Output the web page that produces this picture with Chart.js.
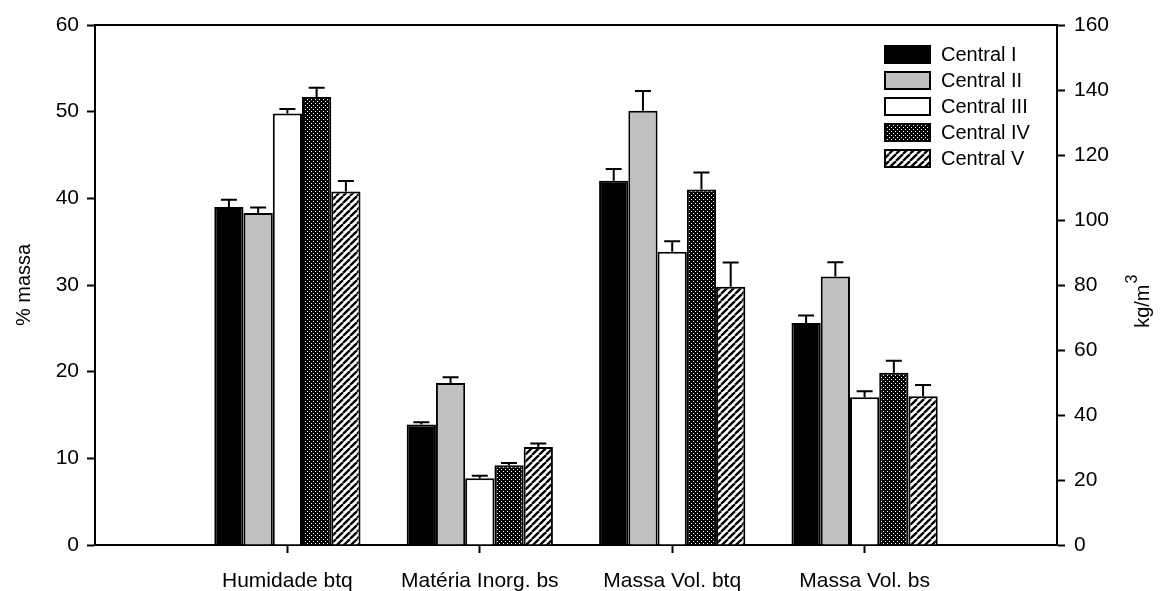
<!DOCTYPE html>
<html>
<head>
<meta charset="utf-8">
<script src="https://cdn.jsdelivr.net/npm/chart.js@4.4.1/dist/chart.umd.min.js"></script>
<style>
  html, body { margin: 0; padding: 0; background: #ffffff; }
  #wrap { width: 1168px; height: 591px; position: relative; }
</style>
</head>
<body>
<div id="wrap"><canvas id="c" width="1168" height="591"></canvas></div>
<script>
// ---- data ----
const categories = ['Humidade btq', 'Matéria Inorg. bs', 'Massa Vol. btq', 'Massa Vol. bs'];
const categoryAxis = ['left', 'left', 'right', 'right']; // left = % massa, right = kg/m3
const seriesNames = ['Central I', 'Central II', 'Central III', 'Central IV', 'Central V'];

const centralI   = [39.0, 13.9, 112.1, 68.3];
const centralII  = [38.3, 18.7, 133.6, 82.6];
const centralIII = [49.8,  7.7,  90.2, 45.5];
const centralIV  = [51.7,  9.2, 109.4, 53.0];
const centralV   = [40.8, 11.3,  79.5, 45.8];

const errI   = [0.85, 0.25, 3.6, 2.3];
const errII  = [0.65, 0.65, 6.1, 4.4];
const errIII = [0.5,  0.3,  3.3, 1.8];
const errIV  = [1.05, 0.25, 5.2, 3.7];
const errV   = [1.2,  0.4,  7.4, 3.4];

const leftTicks  = [0, 10, 20, 30, 40, 50, 60];
const rightTicks = [0, 20, 40, 60, 80, 100, 120, 140, 160];

const seriesValues = [centralI, centralII, centralIII, centralIV, centralV];
const seriesErrors = [errI, errII, errIII, errIV, errV];

// ---- patterns ----
function dotPattern() {
  const c = document.createElement('canvas');
  c.width = 4; c.height = 4;
  const g = c.getContext('2d');
  g.fillStyle = '#000'; g.fillRect(0, 0, 4, 4);
  g.fillStyle = '#fff';
  g.fillRect(1, 1, 1, 1);
  g.fillRect(3, 3, 1, 1);
  return g.createPattern(c, 'repeat');
}
function hatchPattern() {
  const s = 7;
  const c = document.createElement('canvas');
  c.width = s; c.height = s;
  const g = c.getContext('2d');
  g.fillStyle = '#fff'; g.fillRect(0, 0, s, s);
  g.strokeStyle = '#000'; g.lineWidth = 2.3;
  for (const o of [-s, 0, s]) {
    g.beginPath();
    g.moveTo(o, s);
    g.lineTo(o + s, 0);
    g.stroke();
  }
  return g.createPattern(c, 'repeat');
}
const fills = ['#000000', '#c0c0c0', '#ffffff', dotPattern(), hatchPattern()];

// ---- build datasets ----
const labels = [''].concat(categories, ['']);
const datasets = [];
['left', 'right'].forEach(side => {
  seriesNames.forEach((name, s) => {
    const data = [null];
    const errs = [null];
    categories.forEach((cat, i) => {
      data.push(categoryAxis[i] === side ? seriesValues[s][i] : null);
      errs.push(categoryAxis[i] === side ? seriesErrors[s][i] : null);
    });
    data.push(null); errs.push(null);
    datasets.push({
      label: name,
      data: data,
      errors: errs,
      yAxisID: side === 'left' ? 'y' : 'y1',
      stack: 's' + s,
      backgroundColor: fills[s],
      borderColor: '#000000',
      borderWidth: 2,
      borderSkipped: 'start',
      categoryPercentage: 0.76,
      barPercentage: 1.0,
      inLegend: side === 'left'
    });
  });
});

const FONT = 'Liberation Sans, Arial, Helvetica, sans-serif';

const errorBars = {
  id: 'errorBars',
  afterDatasetsDraw(chart) {
    const ctx = chart.ctx;
    ctx.save();
    ctx.strokeStyle = '#000';
    ctx.lineWidth = 2;
    chart.data.datasets.forEach((ds, di) => {
      const meta = chart.getDatasetMeta(di);
      const scale = chart.scales[ds.yAxisID];
      meta.data.forEach((el, i) => {
        const v = ds.data[i];
        const e = ds.errors[i];
        if (v == null || e == null) return;
        const yTop = scale.getPixelForValue(v + e);
        const yBar = scale.getPixelForValue(v);
        ctx.beginPath();
        ctx.moveTo(el.x, yBar);
        ctx.lineTo(el.x, yTop);
        ctx.moveTo(el.x - 8, yTop);
        ctx.lineTo(el.x + 8, yTop);
        ctx.stroke();
      });
    });
    ctx.restore();
  }
};

const frameAndLegend = {
  id: 'frameAndLegend',
  afterDraw(chart) {
    const ctx = chart.ctx;
    const a = chart.chartArea;
    ctx.save();
    // top frame line
    ctx.strokeStyle = '#000';
    ctx.lineWidth = 2;
    ctx.beginPath();
    ctx.moveTo(a.left - 1, a.top);
    ctx.lineTo(a.right + 1, a.top);
    ctx.stroke();

    // legend
    const items = chart.data.datasets.filter(d => d.inLegend);
    const bx = 885, bw = 45, bh = 17, y0 = 54.5, step = 26;
    ctx.font = '20px ' + FONT;
    ctx.textBaseline = 'middle';
    ctx.textAlign = 'left';
    items.forEach((d, k) => {
      const cy = y0 + k * step;
      ctx.fillStyle = d.backgroundColor;
      ctx.fillRect(bx, cy - bh / 2, bw, bh);
      ctx.lineWidth = 2;
      ctx.strokeStyle = '#000';
      ctx.strokeRect(bx, cy - bh / 2, bw, bh);
      ctx.fillStyle = '#000';
      ctx.fillText(d.label, bx + bw + 11, cy + 1);
    });

    // right axis title kg/m3 (rotated, reading upward)
    ctx.translate(1143, 302);
    ctx.rotate(-Math.PI / 2);
    ctx.fillStyle = '#000';
    ctx.textBaseline = 'middle';
    ctx.font = '20px ' + FONT;
    const t = 'kg/m';
    const w = ctx.measureText(t).width;
    ctx.font = '15px ' + FONT;
    const w3 = ctx.measureText('3').width;
    const x0 = -(w + w3) / 2;
    ctx.font = '20px ' + FONT;
    ctx.fillText(t, x0, 0);
    ctx.font = '16px ' + FONT;
    ctx.fillText('3', x0 + w + 1, -10);
    ctx.restore();
  }
};

new Chart(document.getElementById('c'), {
  type: 'bar',
  data: { labels: labels, datasets: datasets },
  plugins: [errorBars, frameAndLegend],
  options: {
    responsive: false,
    animation: false,
    events: [],
    layout: { padding: { top: 25, left: 0, right: 0, bottom: 0 } },
    plugins: { legend: { display: false }, tooltip: { enabled: false } },
    scales: {
      x: {
        type: 'category',
        offset: false,
        grid: {
          display: true,
          offset: false,
          drawOnChartArea: false,
          drawTicks: true,
          tickLength: 8,
          tickWidth: 2,
          tickColor: (c) => (c.index === 0 || c.index === labels.length - 1) ? 'rgba(0,0,0,0)' : '#000'
        },
        border: { display: true, color: '#000', width: 2 },
        ticks: { color: '#000', font: { family: FONT, size: 21 }, padding: 16, maxRotation: 0, autoSkip: false },
        afterFit(s) { s.height = 46; }
      },
      y: {
        position: 'left',
        min: 0, max: 60,
        afterBuildTicks(s) { s.ticks = leftTicks.map(v => ({ value: v })); },
        grid: { display: true, drawOnChartArea: false, tickLength: 8, tickWidth: 2, tickColor: '#000' },
        border: { display: true, color: '#000', width: 2 },
        ticks: { color: '#000', font: { family: FONT, size: 21 }, padding: 8 },
        title: { display: true, text: '% massa', color: '#000', font: { family: FONT, size: 20 }, padding: { top: 12, bottom: 4 } },
        afterFit(s) { s.width = 95; }
      },
      y1: {
        position: 'right',
        min: 0, max: 160,
        afterBuildTicks(s) { s.ticks = rightTicks.map(v => ({ value: v })); },
        grid: { display: true, drawOnChartArea: false, tickLength: 8, tickWidth: 2, tickColor: '#000' },
        border: { display: true, color: '#000', width: 2 },
        ticks: { color: '#000', font: { family: FONT, size: 21 }, padding: 9 },
        afterFit(s) { s.width = 111; }
      }
    }
  }
});
</script>
</body>
</html>
